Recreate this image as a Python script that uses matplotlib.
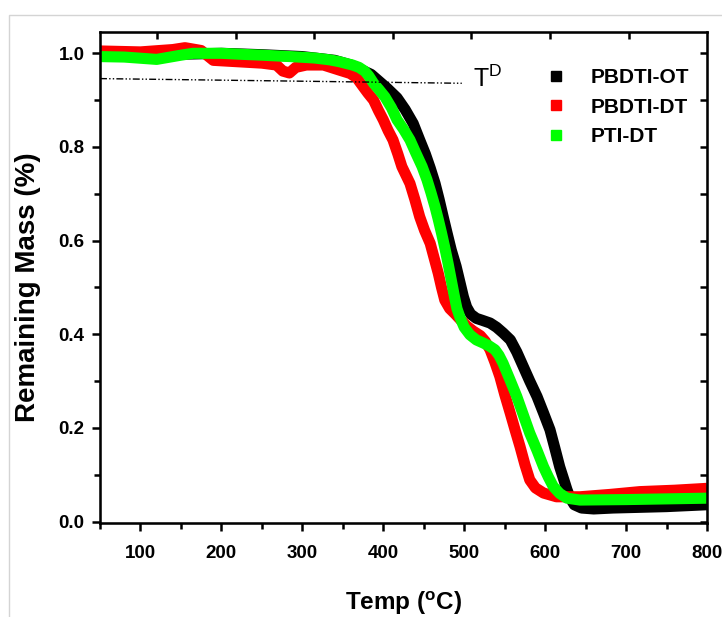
import numpy as np
import matplotlib
matplotlib.use("Agg")
import matplotlib.pyplot as plt
from matplotlib.lines import Line2D
from matplotlib.patches import Rectangle
from matplotlib.ticker import MultipleLocator

plt.rcParams['font.family'] = ['Liberation Sans', 'DejaVu Sans']

# PBDTI-OT (black)
OT_T = [50, 100, 150, 200, 250, 300, 340, 360, 375, 385, 395, 405, 417, 427, 437, 445, 452, 458, 464,
        469, 474, 479, 484, 490, 495, 499, 503, 508, 515, 522, 532, 540, 548, 557, 565, 573, 581, 590,
        598, 606, 612, 618, 623, 627, 631, 636, 645, 660, 684, 750, 800]
OT_M = [0.995, 0.995, 0.998, 1.0, 0.997, 0.993, 0.985, 0.975, 0.963, 0.955, 0.94, 0.925, 0.905, 0.88,
        0.85, 0.815, 0.785, 0.755, 0.722, 0.688, 0.651, 0.615, 0.58, 0.545, 0.509, 0.48, 0.458, 0.443,
        0.434, 0.43, 0.424, 0.415, 0.403, 0.388, 0.362, 0.331, 0.3, 0.267, 0.232, 0.196, 0.157, 0.117,
        0.09, 0.068, 0.05, 0.036, 0.029, 0.027, 0.029, 0.032, 0.036]

# PBDTI-DT (red)
DT_T = [50, 100, 140, 155, 175, 190, 220, 250, 268, 276, 284, 292, 305, 326, 346, 359, 367, 375, 381,
        388, 394, 400, 406, 412, 418, 423, 428, 433, 439, 445, 451, 458, 463, 468, 472, 476, 482, 489,
        496, 503, 511, 520, 526, 532, 538, 544, 550, 557, 563, 569, 575, 581, 588, 598, 614, 643, 680,
        717, 760, 800]
DT_M = [1.005, 1.003, 1.008, 1.012, 1.006, 0.985, 0.982, 0.979, 0.975, 0.962, 0.958, 0.97, 0.975, 0.975,
        0.964, 0.957, 0.948, 0.929, 0.915, 0.9, 0.878, 0.858, 0.835, 0.815, 0.785, 0.758, 0.74, 0.722,
        0.688, 0.651, 0.622, 0.594, 0.562, 0.53, 0.5, 0.473, 0.455, 0.443, 0.43, 0.418, 0.407, 0.397,
        0.385, 0.367, 0.34, 0.31, 0.272, 0.231, 0.195, 0.16, 0.122, 0.089, 0.072, 0.061, 0.053, 0.053,
        0.058, 0.064, 0.067, 0.071]

# PTI-DT (green)
PT_T = [50, 80, 120, 150, 165, 200, 223, 250, 285, 315, 334, 346, 355, 362, 370, 377, 382, 388, 395,
        402, 410, 417, 425, 433, 440, 448, 454, 459, 464, 468, 472, 476, 480, 484, 488, 491, 495, 500,
        507, 515, 524, 531, 538, 543, 548, 556, 565, 573, 581, 590, 598, 604, 610, 618, 627, 643, 700,
        800]
PT_M = [0.993, 0.992, 0.987, 0.996, 1.0, 1.0, 0.998, 0.996, 0.993, 0.99, 0.986, 0.982, 0.978, 0.975,
        0.97, 0.962, 0.952, 0.936, 0.922, 0.907, 0.884, 0.858, 0.838, 0.815, 0.788, 0.758, 0.73, 0.702,
        0.672, 0.645, 0.616, 0.585, 0.552, 0.516, 0.48, 0.455, 0.435, 0.415, 0.399, 0.388, 0.381, 0.375,
        0.367, 0.355, 0.338, 0.305, 0.267, 0.228, 0.189, 0.152, 0.117, 0.095, 0.075, 0.06, 0.05, 0.046,
        0.047, 0.05]

# T^D guide line
TD_T = [50, 497]
TD_M = [0.946, 0.936]

fig = plt.figure(figsize=(7.22, 6.17), dpi=100)
fig.patches.append(Rectangle((9 / 722, -0.1), 1.2, 1 - 15 / 617 + 0.1, transform=fig.transFigure,
                             fill=False, edgecolor='#d4d4d4', lw=1.0))
ax = fig.add_axes([100 / 722, 1 - 523 / 617, 607 / 722, 491 / 617])

lw = 8.0
ax.plot(OT_T, OT_M, color='black', lw=lw, solid_capstyle='butt', solid_joinstyle='round')
ax.plot(DT_T, DT_M, color='#ff0000', lw=lw, solid_capstyle='butt', solid_joinstyle='round')
ax.plot(PT_T, PT_M, color='#00ff00', lw=lw, solid_capstyle='butt', solid_joinstyle='round')
ax.plot(TD_T, TD_M, color='black', lw=1.0, dashes=(5, 1.6, 1, 1.6, 1, 1.6))
ax.text(529, 0.945, r'$\mathregular{T^D}$', fontsize=18, va='center', ha='center', color='black')

ax.set_xlim(50, 800)
ax.set_ylim(-0.003, 1.0455)
ax.xaxis.set_minor_locator(MultipleLocator(50))
ax.yaxis.set_minor_locator(MultipleLocator(0.1))
ax.set_xticks(np.arange(100, 801, 100))
ax.set_yticks([0.0, 0.2, 0.4, 0.6, 0.8, 1.0])
ax.set_yticklabels(['0.0', '0.2', '0.4', '0.6', '0.8', '1.0'])
ax.tick_params(which='both', direction='out', width=1.8, labelsize=13.5, top=False, right=False)
ax.tick_params(which='major', length=6)
ax.tick_params(axis='x', which='major', pad=10)
ax.tick_params(axis='y', which='major', pad=5)
ax.tick_params(which='minor', length=4.5)
for lab in ax.get_xticklabels() + ax.get_yticklabels():
    lab.set_fontweight('bold')
for s in ax.spines.values():
    s.set_linewidth(1.8)

# top ticks (inward, unlabelled)
axt = ax.twiny()
axt.set_xlim(50, 800)
axt.set_xticks([120.4, 218, 314.4, 411.7, 508, 605.6, 704])
axt.tick_params(axis='x', direction='in', length=5, width=1.8, labeltop=False)
# right ticks (inward, unlabelled)
axr = ax.twinx()
axr.set_ylim(-0.003, 1.0455)
axr.set_yticks(np.arange(0, 1.01, 0.1))
axr.tick_params(axis='y', direction='in', length=5, width=1.8, labelright=False)

ax.set_xlabel(r'Temp ($\mathregular{^oC}$)', fontsize=17.5, fontweight='bold', labelpad=20)
ax.set_ylabel('Remaining Mass (%)', fontsize=20, fontweight='bold')
ax.yaxis.set_label_coords(-0.097, 0.48)

handles = [Line2D([], [], ls='none', marker='s', ms=7.5, color=c, label=l)
           for c, l in [('black', 'PBDTI-OT'), ('#ff0000', 'PBDTI-DT'), ('#00ff00', 'PTI-DT')]]
leg = ax.legend(handles=handles, loc='upper left', bbox_to_anchor=(0.724, 0.943), frameon=False,
                prop={'size': 15, 'weight': 'bold'}, handlelength=0.8, handletextpad=1.25,
                labelspacing=0.5, borderaxespad=0)

fig.savefig('out.png', dpi=100)
